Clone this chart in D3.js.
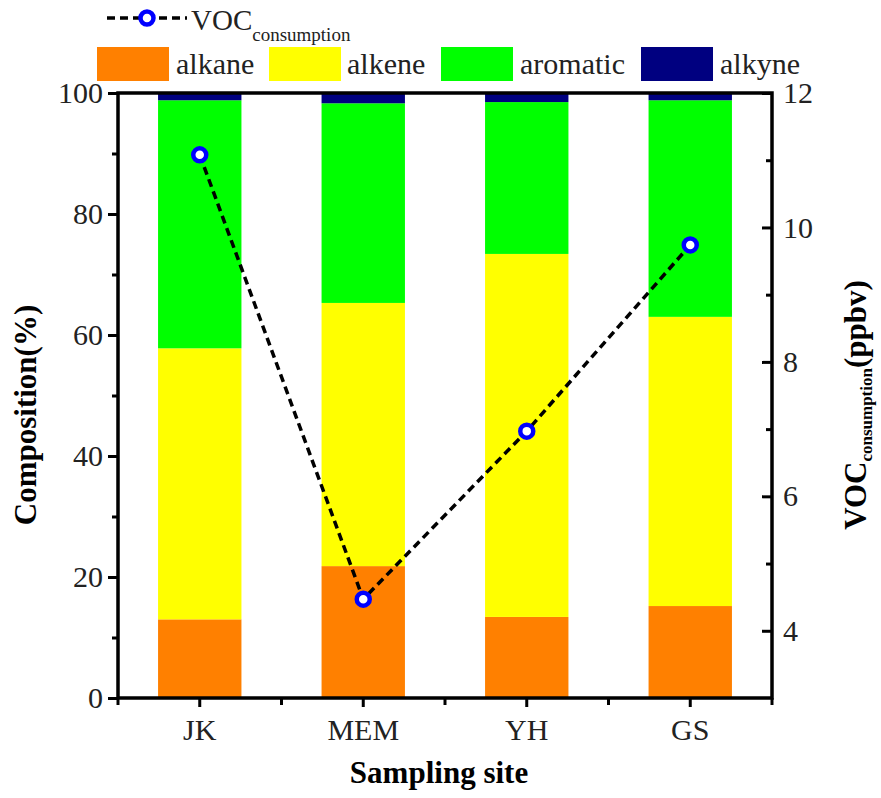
<!DOCTYPE html>
<html>
<head>
<meta charset="utf-8">
<script src="https://cdn.jsdelivr.net/npm/d3@7/dist/d3.min.js"></script>
<style>
  body { margin: 0; background: #fff; }
  svg, svg text { font-family: "Liberation Serif", "Times New Roman", "Nimbus Roman", "DejaVu Serif", serif !important; }
</style>
</head>
<body>
<svg id="chart" width="881" height="798"></svg>
<script>
// ---- data ----
const sites = ["JK", "MEM", "YH", "GS"];
const alkane   = [13.0, 21.8, 13.4, 15.2];
const alkene   = [44.8, 43.5, 60.0, 47.8];
const aromatic = [41.0, 33.0, 25.1, 35.8];
const alkyne   = [1.2, 1.7, 1.5, 1.2];
const vocConsumption = [11.08, 4.47, 6.97, 9.74];
const leftTicks = [0, 20, 40, 60, 80, 100];
const leftMinor = [10, 30, 50, 70, 90];
const rightTicks = [4, 6, 8, 10, 12];
const rightMinor = [5, 7, 9, 11];
const seriesNames = ["alkane", "alkene", "aromatic", "alkyne"];
const seriesColors = ["#FF8000", "#FFFF00", "#00FF00", "#000080"];

// ---- layout ----
const L = 118, R = 772, T = 93, B = 698;
const FONT = '"Liberation Serif", "Times New Roman", "Nimbus Roman", "DejaVu Serif", serif';
const svg = d3.select("#chart");

const x = d3.scaleBand().domain(sites).range([L, R]).paddingInner(0.49).paddingOuter(0.245);
const y = d3.scaleLinear().domain([0, 100]).range([B, T]);
const y2 = d3.scaleLinear().domain([3, 12]).range([B, T]);

// stacked data
const table = sites.map((s, i) => ({site: s, alkane: alkane[i], alkene: alkene[i], aromatic: aromatic[i], alkyne: alkyne[i]}));
const stack = d3.stack().keys(seriesNames)(table);
const color = d3.scaleOrdinal().domain(seriesNames).range(seriesColors);

svg.append("g").selectAll("g").data(stack).join("g")
  .attr("fill", d => color(d.key))
  .selectAll("rect").data(d => d).join("rect")
  .attr("x", d => x(d.data.site))
  .attr("width", x.bandwidth())
  .attr("y", d => y(d[1]))
  .attr("height", d => y(d[0]) - y(d[1]));

// line
const pts = sites.map((s, i) => [x(s) + x.bandwidth() / 2, y2(vocConsumption[i])]);
svg.append("path")
  .attr("d", d3.line()(pts))
  .attr("fill", "none").attr("stroke", "#000").attr("stroke-width", 3.5)
  .attr("stroke-dasharray", "8,5");
svg.append("g").selectAll("circle").data(pts).join("circle")
  .attr("cx", d => d[0]).attr("cy", d => d[1]).attr("r", 6.5)
  .attr("fill", "#fff").attr("stroke", "#0000FF").attr("stroke-width", 4.5);

// ---- axes ----
const fontTick = 30;
// left
const gl = svg.append("g").attr("transform", `translate(${L},0)`)
  .call(d3.axisLeft(y).tickValues(leftTicks).tickSize(10).tickPadding(5).tickSizeOuter(0));
gl.append("g").call(d3.axisLeft(y).tickValues(leftMinor).tickSize(6).tickFormat("").tickSizeOuter(0));
// right
const gr = svg.append("g").attr("transform", `translate(${R},0)`)
  .call(d3.axisRight(y2).tickValues(rightTicks).tickSize(-10).tickPadding(11).tickSizeOuter(0));
gr.append("g").call(d3.axisRight(y2).tickValues(rightMinor).tickSize(-6).tickFormat("").tickSizeOuter(0));
// bottom
const gb = svg.append("g").attr("transform", `translate(0,${B})`)
  .call(d3.axisBottom(x).tickSize(9).tickSizeOuter(0));
gb.selectAll(".tick text").attr("y", 42).attr("dy", 0);
const gap = x.step() - x.bandwidth();
const bounds = sites.map(s => x(s) - gap / 2).concat([x(sites[sites.length - 1]) + x.bandwidth() + gap / 2]);
gb.append("g").selectAll("line").data(bounds).join("line")
  .attr("x1", d => d).attr("x2", d => d).attr("y1", 0).attr("y2", 7)
  .attr("stroke", "#000").attr("stroke-width", 3);

svg.selectAll(".domain").remove();
svg.selectAll("g").attr("font-family", null).attr("font-size", null);
svg.selectAll(".tick line").attr("stroke", "#000").attr("stroke-width", 3);
svg.selectAll(".tick text").attr("font-size", fontTick).attr("fill", "#222")
  .style("font-family", FONT);

// frame
svg.append("rect").attr("x", L).attr("y", T).attr("width", R - L).attr("height", B - T)
  .attr("fill", "none").attr("stroke", "#000").attr("stroke-width", 3.5);

// ---- titles ----
svg.append("text").attr("transform", "translate(36,415) rotate(-90)")
  .attr("text-anchor", "middle").attr("font-weight", "bold").attr("font-size", 31)
  .style("font-family", FONT).text("Composition(%)");
svg.append("text").attr("x", 439).attr("y", 783)
  .attr("text-anchor", "middle").attr("font-weight", "bold").attr("font-size", 31)
  .style("font-family", FONT).text("Sampling site");
const rt = svg.append("text").attr("transform", "translate(866,405) rotate(-90)")
  .attr("text-anchor", "middle").attr("font-weight", "bold").attr("font-size", 31)
  .style("font-family", FONT);
rt.append("tspan").text("VOC");
rt.append("tspan").attr("font-size", 17).attr("dy", 6).text("consumption");
rt.append("tspan").attr("dy", -6).text("(ppbv)");

// ---- legend ----
const lg = svg.append("g");
lg.append("line").attr("x1", 107).attr("x2", 187).attr("y1", 18).attr("y2", 18)
  .attr("stroke", "#000").attr("stroke-width", 3.5).attr("stroke-dasharray", "8,5");
lg.append("circle").attr("cx", 147).attr("cy", 18).attr("r", 6.5)
  .attr("fill", "#fff").attr("stroke", "#0000FF").attr("stroke-width", 4.5);
const lt = lg.append("text").attr("x", 191).attr("y", 30).attr("font-size", 29).attr("fill", "#222")
  .style("font-family", FONT);
lt.append("tspan").text("VOC");
lt.append("tspan").attr("font-size", 19).attr("dy", 11).text("consumption");

const legX = [97, 269, 441, 641];
const legTX = [176, 347, 520, 720];
seriesNames.forEach((n, i) => {
  lg.append("rect").attr("x", legX[i]).attr("y", 47).attr("width", 72).attr("height", 34)
    .attr("fill", color(n));
  lg.append("text").attr("x", legTX[i]).attr("y", 74).attr("font-size", 30).attr("fill", "#222")
    .style("font-family", FONT).text(n);
});
</script>
</body>
</html>
